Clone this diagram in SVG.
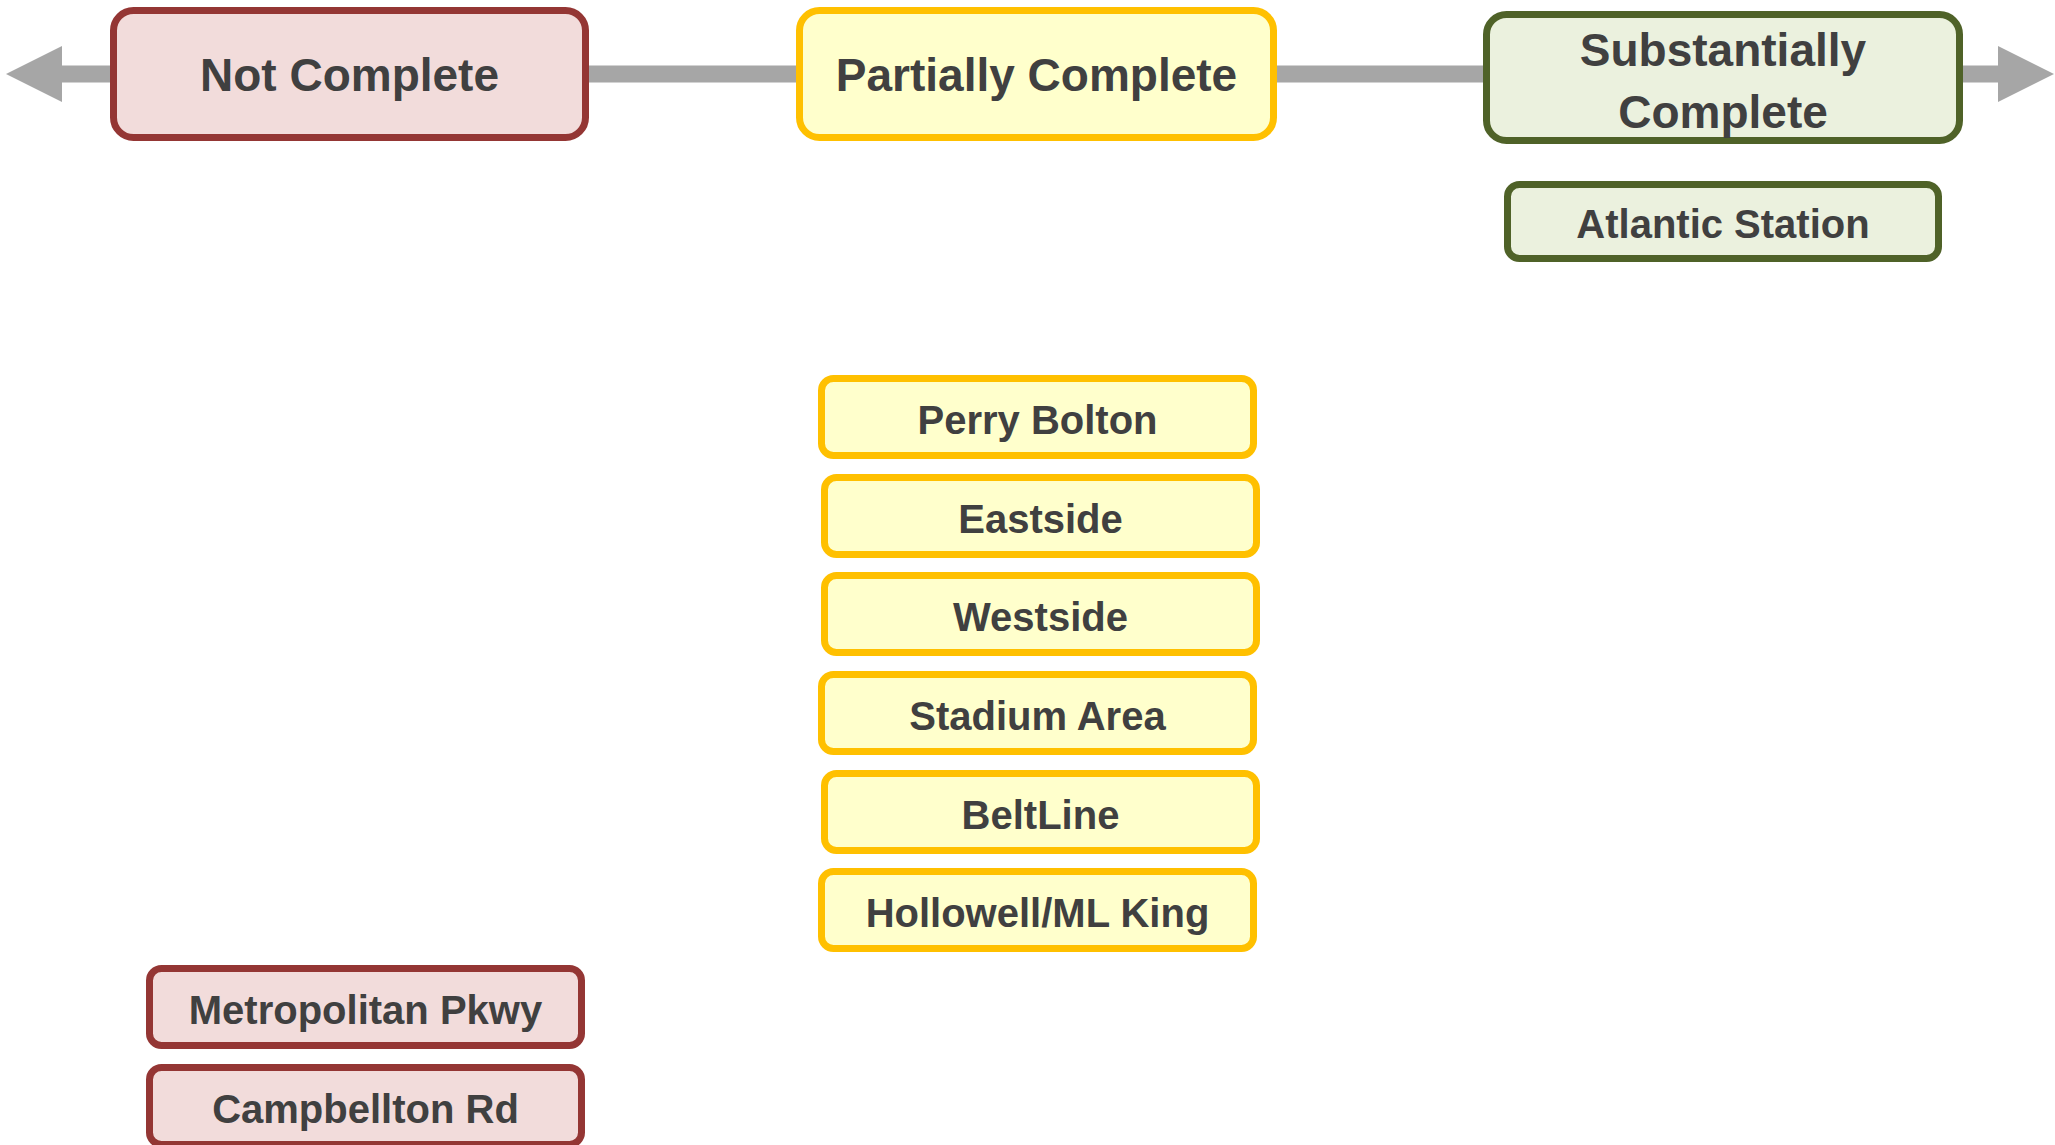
<svg xmlns="http://www.w3.org/2000/svg" width="2055" height="1145" viewBox="0 0 2055 1145">
<style>
  .red rect { fill: #F2DCDB; stroke: #943634; stroke-width: 7; }
  .yel rect { fill: #FFFFCC; stroke: #FFC000; stroke-width: 7; }
  .grn rect { fill: #EBF1DE; stroke: #4F6228; stroke-width: 7; }
  text { font-family: "Liberation Sans", Arial, sans-serif; font-weight: bold; fill: #404040; text-anchor: middle; }
  .h text { font-size: 46px; }
  .s text { font-size: 40px; }
</style>
<defs>
  <marker id="head" markerUnits="userSpaceOnUse" markerWidth="56" markerHeight="56" viewBox="0 0 56 56" refX="0" refY="28" orient="auto-start-reverse">
    <path d="M0,0 L56,28 L0,56 Z" fill="#A6A6A6"/>
  </marker>
</defs>
<rect width="2055" height="1145" fill="#FFFFFF"/>
<g id="connectors">
  <line x1="62" y1="74" x2="1998" y2="74" stroke="#A6A6A6" stroke-width="17" marker-start="url(#head)" marker-end="url(#head)"/>
</g>
<g id="not-complete" class="red h">
  <rect x="113.5" y="10.5" width="472" height="127" rx="20"/>
  <text x="349.5" y="91">Not Complete</text>
</g>
<g id="partially-complete" class="yel h">
  <rect x="799.5" y="10.5" width="474" height="127" rx="20"/>
  <text x="1036.5" y="91">Partially Complete</text>
</g>
<g id="substantially-complete" class="grn h">
  <rect x="1486.5" y="14.5" width="473" height="126" rx="20"/>
  <text x="1723" y="66">Substantially</text>
  <text x="1723" y="128">Complete</text>
</g>
<g id="atlantic-station" class="grn s">
  <rect x="1507.5" y="184.5" width="431" height="74" rx="12"/>
  <text x="1723" y="238">Atlantic Station</text>
</g>
<g id="perry-bolton" class="yel s">
  <rect x="821.5" y="378.5" width="432" height="77" rx="12"/>
  <text x="1037.5" y="434">Perry Bolton</text>
</g>
<g id="eastside" class="yel s">
  <rect x="824.5" y="477.5" width="432" height="77" rx="12"/>
  <text x="1040.5" y="533">Eastside</text>
</g>
<g id="westside" class="yel s">
  <rect x="824.5" y="575.5" width="432" height="77" rx="12"/>
  <text x="1040.5" y="631">Westside</text>
</g>
<g id="stadium-area" class="yel s">
  <rect x="821.5" y="674.5" width="432" height="77" rx="12"/>
  <text x="1037.5" y="730">Stadium Area</text>
</g>
<g id="beltline" class="yel s">
  <rect x="824.5" y="773.5" width="432" height="77" rx="12"/>
  <text x="1040.5" y="829">BeltLine</text>
</g>
<g id="hollowell-ml-king" class="yel s">
  <rect x="821.5" y="871.5" width="432" height="77" rx="12"/>
  <text x="1037.5" y="927">Hollowell/ML King</text>
</g>
<g id="metropolitan-pkwy" class="red s">
  <rect x="149.5" y="968.5" width="432" height="77" rx="12"/>
  <text x="365.5" y="1024">Metropolitan Pkwy</text>
</g>
<g id="campbellton-rd" class="red s">
  <rect x="149.5" y="1067.5" width="432" height="77" rx="12"/>
  <text x="365.5" y="1123">Campbellton Rd</text>
</g>
</svg>
